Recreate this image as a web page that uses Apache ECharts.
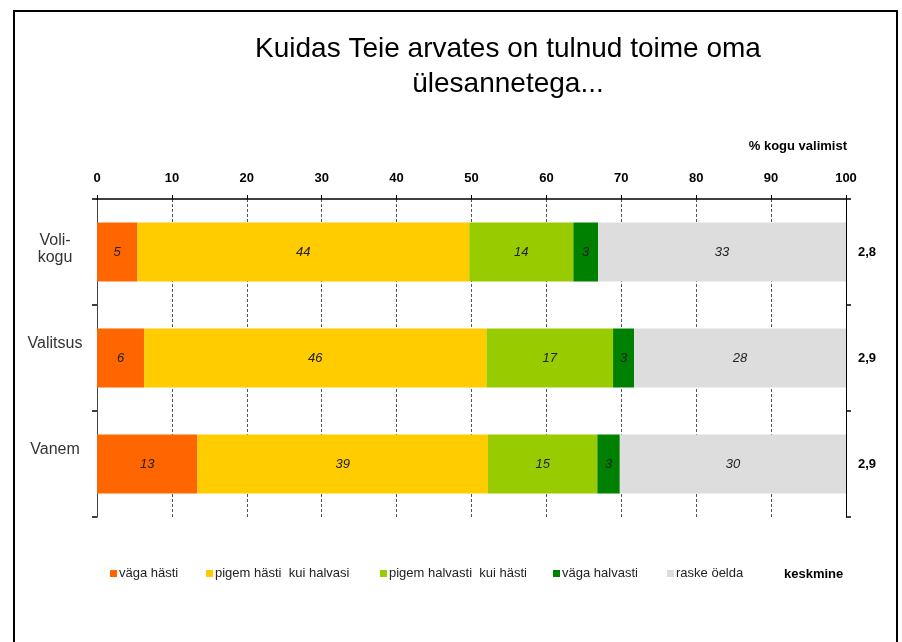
<!DOCTYPE html>
<html><head><meta charset="utf-8">
<script src="https://cdn.jsdelivr.net/npm/echarts@6/dist/echarts.min.js"></script>
<style>html,body{margin:0;padding:0;background:#fff}#c{width:902px;height:642px}</style>
</head><body><div id="c"></div>
<script>
var categories = ['Voli-\nkogu', 'Valitsus', 'Vanem'];
var seriesNames = ['väga hästi', 'pigem hästi  kui halvasi', 'pigem halvasti  kui hästi', 'väga halvasti', 'raske öelda'];
var vagaHasti = [5.4, 6.3, 13.4];
var pigemHasti = [44.3, 45.7, 38.8];
var pigemHalvasti = [13.9, 16.9, 14.6];
var vagaHalvasti = [3.3, 2.8, 3.0];
var raskeOelda = [33.1, 28.3, 30.2];
var keskmine = [2.8, 2.9, 2.9];
var xTicks = [0, 10, 20, 30, 40, 50, 60, 70, 80, 90, 100];
var colors = ['#FF6600', '#FFCC00', '#99CC00', '#008000', '#DDDDDD'];
var legendLeft = [110, 206, 380, 553, 667];

var values = [vagaHasti, pigemHasti, pigemHalvasti, vagaHalvasti, raskeOelda];
var FONT = '"Liberation Sans", Arial, sans-serif';

var chart = echarts.init(document.getElementById('c'));

var series = values.map(function (arr, i) {
  return {
    name: seriesNames[i],
    type: 'bar',
    stack: 'total',
    barWidth: 59,
    data: arr,
    itemStyle: { color: colors[i] },
    label: {
      show: true,
      position: 'inside',
      formatter: function (p) { return Math.round(p.value); },
      fontStyle: 'italic',
      fontSize: 13,
      color: '#222',
      fontFamily: FONT
    }
  };
});

var legends = seriesNames.map(function (n, i) {
  return {
    left: legendLeft[i],
    top: 567,
    data: [n],
    icon: 'rect',
    itemWidth: 7,
    itemHeight: 7,
    padding: 0,
    itemGap: 0,
    selectedMode: false,
    textStyle: { fontSize: 13, color: '#222', fontFamily: FONT, padding: [0, 0, 0, -3] }
  };
});

var option = {
  animation: false,
  backgroundColor: '#fff',
  title: [{
    text: 'Kuidas Teie arvates on tulnud toime oma\nülesannetega...',
    left: 503,
    top: 27,
    textAlign: 'center',
    textStyle: { fontSize: 28, fontWeight: 'normal', color: '#000', fontFamily: FONT, lineHeight: 35 }
  }, {
    text: '% kogu valimist',
    right: 50,
    top: 135,
    textStyle: { fontSize: 13, fontWeight: 'bold', color: '#000', fontFamily: FONT }
  }, {
    text: 'keskmine',
    left: 779,
    top: 563,
    textStyle: { fontSize: 13, fontWeight: 'bold', color: '#000', fontFamily: FONT }
  }],
  legend: legends,
  grid: { left: 97, right: 56, top: 199, bottom: 125, containLabel: false },
  xAxis: {
    type: 'value',
    position: 'top',
    min: xTicks[0],
    max: xTicks[xTicks.length - 1],
    interval: 10,
    axisLine: { show: true, lineStyle: { color: '#000', width: 1.5 } },
    axisTick: { show: true, length: 4, lineStyle: { color: '#000' } },
    axisLabel: { margin: 14, fontSize: 13, fontWeight: 'bold', color: '#000', fontFamily: FONT },
    splitLine: { show: true, lineStyle: { type: [3, 2], color: '#555', width: 1 } }
  },
  yAxis: [{
    type: 'category',
    data: categories,
    inverse: true,
    position: 'left',
    axisLine: { show: true, lineStyle: { color: '#444', width: 1 } },
    axisTick: { show: true, length: 5, lineStyle: { color: '#000', width: 1.5 } },
    axisLabel: {
      margin: 42,
      align: 'center',
      fontSize: 16,
      color: '#333',
      fontFamily: FONT,
      lineHeight: 22,
      formatter: function (v) {
        if (v.indexOf('\n') >= 0) {
          var parts = v.split('\n');
          return '{a|' + parts[0] + '}\n{b|' + parts[1] + '}';
        }
        return '{c|' + v + '}';
      },
      rich: {
        a: { fontSize: 16, color: '#333', fontFamily: FONT, lineHeight: 22, height: 22 },
        b: { fontSize: 16, color: '#333', fontFamily: FONT, lineHeight: 22, height: 22, padding: [0, 0, 10, 0] },
        c: { fontSize: 16, color: '#333', fontFamily: FONT, lineHeight: 21, padding: [0, 0, 28, 0] }
      }
    },
    splitLine: { show: false }
  }, {
    type: 'category',
    data: categories,
    inverse: true,
    position: 'right',
    axisLine: { show: true, lineStyle: { color: '#000', width: 1 } },
    axisTick: { show: true, length: 5, lineStyle: { color: '#000', width: 1.5 } },
    axisLabel: {
      margin: 12,
      fontSize: 13,
      fontWeight: 'bold',
      color: '#000',
      fontFamily: FONT,
      formatter: function (v, idx) { return keskmine[idx].toFixed(1).replace('.', ','); }
    },
    splitLine: { show: false }
  }],
  series: series,
  graphic: [{
    type: 'rect',
    z: -10,
    shape: { x: 14, y: 11, width: 883, height: 700 },
    style: { fill: 'none', stroke: '#000', lineWidth: 2 }
  }]
};
chart.setOption(option);
</script>
</body></html>
